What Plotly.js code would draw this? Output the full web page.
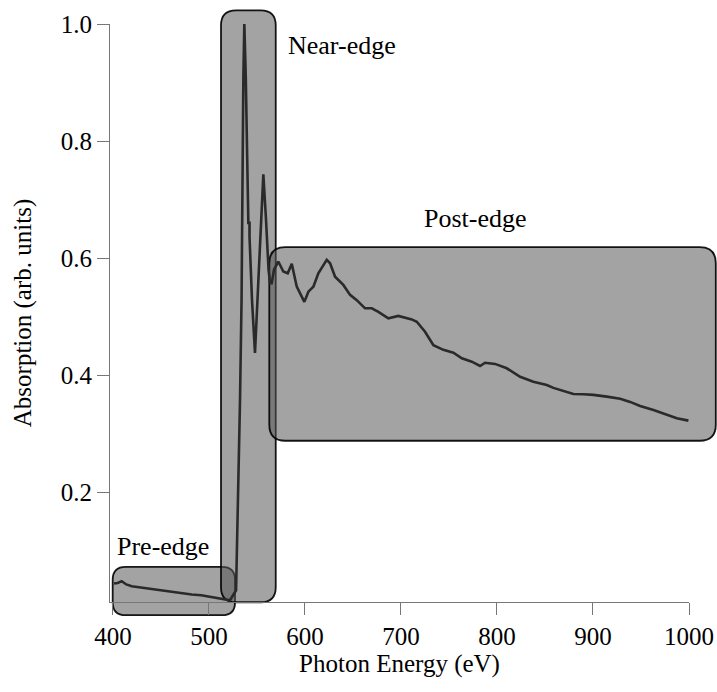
<!DOCTYPE html>
<html>
<head>
<meta charset="utf-8">
<script src="https://cdn.plot.ly/plotly-3.0.1.min.js"></script>
<style>html,body{margin:0;padding:0;background:#fff;}#chart{width:717px;height:692px;}</style>
</head>
<body>
<div id="chart"></div>
<script>
// Photon energy (eV)
const energy = [401.2, 405.0, 409.2, 414.0, 419.6, 428.0, 436.6, 448.0, 461.3, 472.0, 482.1, 492.0, 502.9, 510.0, 516.8,
  522.0, 528.3, 531.4, 532.4, 534.0, 534.5, 535.9, 536.9, 538.4, 541.1, 542.3, 542.3, 544.9, 548.0,
  552.2, 556.7, 559.5, 562.1, 563.7,
  565.4, 567.8, 572.3, 577.5, 582.1, 586.3, 591.5, 599.4, 603.6, 608.8, 614.0, 622.7, 626.2, 631.4,
  640.0, 647.0, 654.0, 662.6, 669.6, 676.5, 686.9, 697.3, 711.3, 716.5, 725.1, 733.8, 744.2, 754.6,
  763.4, 773.8, 782.4, 787.6, 798.0, 810.2, 824.1, 837.9, 851.9, 858.8, 869.2, 879.6, 890.0, 900.5,
  914.4, 928.3, 938.7, 949.1, 963.0, 976.9, 987.3, 999.4];
// Absorption (arb. units)
const absorption = [0.0436, 0.0445, 0.0476, 0.042, 0.039, 0.0372, 0.0351, 0.0318, 0.0293, 0.0275, 0.0248, 0.0236, 0.0207, 0.019, 0.0163,
  0.015, 0.032, 0.242, 0.357, 0.528, 0.699, 0.91, 1.0, 0.91, 0.66, 0.66, 0.636, 0.528, 0.4376,
  0.597, 0.743, 0.665, 0.58, 0.557,
  0.557, 0.58, 0.594, 0.577, 0.574, 0.59, 0.551, 0.525, 0.5425, 0.551, 0.574, 0.597, 0.591, 0.568,
  0.554, 0.537, 0.528, 0.514, 0.514, 0.508, 0.497, 0.501, 0.495, 0.491, 0.474, 0.451, 0.443, 0.438,
  0.4286, 0.4228, 0.4154, 0.421, 0.419, 0.4115, 0.397, 0.3885, 0.383, 0.378, 0.373, 0.3675, 0.367, 0.366,
  0.363, 0.3595, 0.354, 0.347, 0.340, 0.3316, 0.326, 0.322];
// Region labels
const regionNames = ["Pre-edge", "Near-edge", "Post-edge"];
const xTickVals = [400, 500, 600, 700, 800, 900, 1000];
const yTickVals = [0.2, 0.4, 0.6, 0.8, 1.0];
const yTickText = ["0.2", "0.4", "0.6", "0.8", "1.0"];

// layout geometry
const W = 717, H = 692;
const M = {l: 110, r: 28, t: 24, b: 90};
const xRange = [397, 1000], yRange = [0.012, 1.0];
const plotW = W - M.l - M.r, plotH = H - M.t - M.b;
const px = x => (x - xRange[0]) / (xRange[1] - xRange[0]);
const py = y => (y - yRange[0]) / (yRange[1] - yRange[0]);

// region boxes (data units) and label anchors
const boxes = [
  {x0: 399.8, x1: 527.2, y0: -0.0106, y1: 0.072, r: 13},
  {x0: 512.6, x1: 569.6, y0: 0.0116, y1: 1.0233, r: 15},
  {x0: 562.9, x1: 1027.9, y0: 0.2876, y1: 0.6185, r: 16}
];
const labelPos = [[451.7, 0.1074], [638.7, 0.9637], [777.2, 0.667]];

function roundRect(b) {
  const x0 = px(b.x0), x1 = px(b.x1), y0 = py(b.y0), y1 = py(b.y1);
  const rx = b.r / plotW, ry = b.r / plotH;
  return `M${x0 + rx},${y0} L${x1 - rx},${y0} Q${x1},${y0} ${x1},${y0 + ry} ` +
         `L${x1},${y1 - ry} Q${x1},${y1} ${x1 - rx},${y1} L${x0 + rx},${y1} ` +
         `Q${x0},${y1} ${x0},${y1 - ry} L${x0},${y0 + ry} Q${x0},${y0} ${x0 + rx},${y0} Z`;
}

const shapes = boxes.map(b => ({
  type: 'path', xref: 'paper', yref: 'paper', path: roundRect(b),
  fillcolor: 'rgba(88,88,88,0.55)', line: {color: 'rgba(0,0,0,0.9)', width: 1.8}, layer: 'below'
}));

const font = '"Liberation Serif", "DejaVu Serif", "Times New Roman", Times, serif';
const annotations = regionNames.map((t, i) => ({
  text: t, x: labelPos[i][0], y: labelPos[i][1], xref: 'x', yref: 'y',
  showarrow: false, xanchor: 'center', yanchor: 'middle',
  font: {family: font, size: 26, color: '#000'}
}));

const trace = {
  x: energy, y: absorption, type: 'scatter', mode: 'lines',
  line: {color: '#2a2a2a', width: 2.6}, hoverinfo: 'skip'
};

const layout = {
  width: W, height: H, margin: M, showlegend: false,
  paper_bgcolor: '#fff', plot_bgcolor: 'rgba(0,0,0,0)',
  font: {family: font, color: '#000', size: 25},
  xaxis: {
    range: xRange, tickvals: xTickVals, ticks: 'outside', ticklen: 12, tickcolor: '#777', tickwidth: 1,
    showline: true, linecolor: '#777', linewidth: 1, showgrid: false, zeroline: false,
    tickfont: {family: font, size: 25, color: '#000'},
    title: {text: 'Photon Energy (eV)', font: {family: font, size: 25, color: '#000'}, standoff: 4}
  },
  yaxis: {
    range: yRange, tickvals: yTickVals, ticktext: yTickText, ticks: 'outside', ticklen: 12, tickcolor: '#777', tickwidth: 1,
    showline: true, linecolor: '#777', linewidth: 1, showgrid: false, zeroline: false,
    tickfont: {family: font, size: 25, color: '#000'},
    title: {text: 'Absorption (arb. units)', font: {family: font, size: 25, color: '#000'}, standoff: 22}
  },
  shapes: shapes, annotations: annotations
};

Plotly.newPlot('chart', [trace], layout, {displayModeBar: false, staticPlot: true});
</script>
</body>
</html>
